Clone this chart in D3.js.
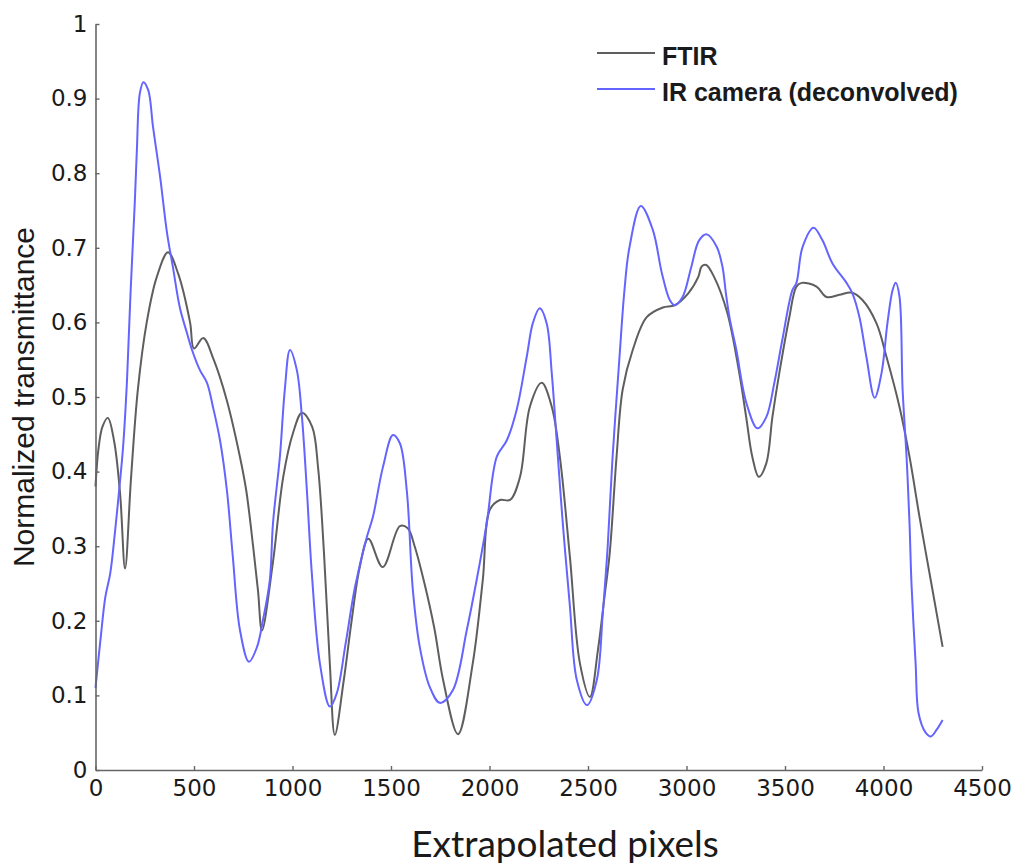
<!DOCTYPE html>
<html>
<head>
<meta charset="utf-8">
<script src="https://cdn.jsdelivr.net/npm/d3@7"></script>
<style>
  html, body { margin: 0; padding: 0; background: #fff; }
  svg { display: block; }
</style>
</head>
<body>
<svg id="chart" width="1014" height="864"></svg>
<script>
// ---- data ----
const ftirX = [0, 15, 35, 63, 95, 125, 150, 180, 215, 260, 310, 368, 420, 480, 500, 547, 600, 666, 733, 765, 800, 825, 845, 900, 953, 1003, 1048, 1100, 1130, 1160, 1190, 1215, 1260, 1300, 1340, 1385, 1458, 1545, 1585, 1620, 1670, 1720, 1765, 1840, 1915, 1966, 2002, 2053, 2104, 2155, 2205, 2265, 2316, 2357, 2408, 2459, 2510, 2550, 2585, 2610, 2645, 2676, 2727, 2798, 2880, 2940, 3009, 3060, 3077, 3100, 3140, 3207, 3268, 3303, 3334, 3367, 3405, 3436, 3471, 3522, 3558, 3585, 3660, 3711, 3776, 3838, 3893, 3964, 4015, 4081, 4132, 4183, 4249, 4300];
const ftirY = [0.38, 0.43, 0.46, 0.472, 0.44, 0.37, 0.27, 0.39, 0.51, 0.60, 0.66, 0.694, 0.665, 0.60, 0.565, 0.579, 0.55, 0.496, 0.42, 0.375, 0.30, 0.24, 0.187, 0.277, 0.393, 0.452, 0.479, 0.46, 0.405, 0.29, 0.14, 0.047, 0.12, 0.20, 0.27, 0.31, 0.272, 0.327, 0.324, 0.30, 0.25, 0.19, 0.12, 0.048, 0.143, 0.255, 0.349, 0.362, 0.362, 0.393, 0.487, 0.519, 0.487, 0.42, 0.286, 0.143, 0.098, 0.16, 0.235, 0.29, 0.42, 0.51, 0.563, 0.607, 0.62, 0.623, 0.639, 0.661, 0.675, 0.677, 0.661, 0.613, 0.532, 0.473, 0.42, 0.393, 0.411, 0.473, 0.532, 0.607, 0.648, 0.653, 0.648, 0.634, 0.637, 0.64, 0.63, 0.599, 0.554, 0.487, 0.42, 0.339, 0.241, 0.165];

const irX = [0, 25, 50, 75, 100, 120, 140, 160, 178, 200, 210, 225, 243, 268, 292, 328, 363, 393, 428, 464, 490, 530, 566, 596, 632, 667, 697, 733, 779, 820, 850, 885, 901, 936, 961, 987, 1022, 1048, 1073, 1098, 1139, 1190, 1225, 1270, 1317, 1377, 1408, 1459, 1510, 1545, 1580, 1611, 1646, 1697, 1748, 1814, 1885, 1935, 1986, 2037, 2088, 2138, 2189, 2220, 2255, 2290, 2316, 2341, 2372, 2408, 2443, 2495, 2545, 2575, 2600, 2625, 2660, 2685, 2710, 2768, 2829, 2875, 2915, 2940, 2980, 3024, 3064, 3103, 3154, 3183, 3200, 3218, 3253, 3304, 3360, 3405, 3446, 3486, 3537, 3558, 3589, 3645, 3690, 3741, 3812, 3842, 3878, 3913, 3955, 3990, 4020, 4046, 4062, 4081, 4097, 4117, 4132, 4142, 4163, 4178, 4214, 4240, 4270, 4300];
const irY = [0.11, 0.174, 0.232, 0.264, 0.322, 0.375, 0.433, 0.523, 0.64, 0.764, 0.831, 0.907, 0.922, 0.911, 0.862, 0.795, 0.72, 0.674, 0.62, 0.586, 0.563, 0.536, 0.519, 0.487, 0.442, 0.375, 0.286, 0.188, 0.145, 0.165, 0.201, 0.255, 0.331, 0.42, 0.51, 0.563, 0.536, 0.473, 0.375, 0.264, 0.143, 0.085, 0.103, 0.17, 0.245, 0.312, 0.339, 0.406, 0.449, 0.438, 0.375, 0.241, 0.165, 0.111, 0.09, 0.107, 0.188, 0.255, 0.331, 0.42, 0.442, 0.483, 0.554, 0.599, 0.619, 0.599, 0.532, 0.442, 0.331, 0.22, 0.121, 0.087, 0.121, 0.21, 0.30, 0.42, 0.554, 0.643, 0.70, 0.756, 0.724, 0.666, 0.63, 0.623, 0.634, 0.674, 0.71, 0.718, 0.701, 0.674, 0.639, 0.607, 0.563, 0.492, 0.458, 0.473, 0.519, 0.576, 0.643, 0.653, 0.701, 0.727, 0.71, 0.679, 0.653, 0.639, 0.607, 0.554, 0.499, 0.532, 0.599, 0.643, 0.653, 0.635, 0.51, 0.42, 0.331, 0.25, 0.143, 0.076, 0.05, 0.045, 0.054, 0.067];

const seriesNames = ["FTIR", "IR camera (deconvolved)"];
const seriesColors = ["#5e5e5e", "#6464ff"];

const xTicks = [0, 500, 1000, 1500, 2000, 2500, 3000, 3500, 4000, 4500];
const xTickLabels = ["0", "500", "1000", "1500", "2000", "2500", "3000", "3500", "4000", "4500"];
const yTicks = [0, 0.1, 0.2, 0.3, 0.4, 0.5, 0.6, 0.7, 0.8, 0.9, 1];
const yTickLabels = ["0", "0.1", "0.2", "0.3", "0.4", "0.5", "0.6", "0.7", "0.8", "0.9", "1"];

const xLabel = "Extrapolated pixels";
const yLabel = "Normalized transmittance";

// ---- layout ----
const svg = d3.select("#chart");
const plotLeft = 95.5, plotRight = 982, plotTop = 24, plotBottom = 770;

const x = d3.scaleLinear().domain([0, 4500]).range([plotLeft, plotRight]);
const y = d3.scaleLinear().domain([0, 1]).range([plotBottom, plotTop]);

const axisColor = "#666";

// lines
const line = d3.line()
  .x(d => x(d[0]))
  .y(d => y(d[1]))
  .curve(d3.curveCatmullRom.alpha(0.5));

const series = [
  d3.zip(ftirX, ftirY),
  d3.zip(irX, irY)
];

svg.append("g").selectAll("path")
  .data(series)
  .join("path")
  .attr("d", line)
  .attr("fill", "none")
  .attr("stroke", (d, i) => seriesColors[i])
  .attr("stroke-width", 2)
  .attr("stroke-linejoin", "round");

// axes
const xAxis = d3.axisBottom(x)
  .tickValues(xTicks)
  .tickFormat((d, i) => xTickLabels[i])
  .tickSizeInner(-4)
  .tickSizeOuter(0)
  .tickPadding(10);

const yAxis = d3.axisLeft(y)
  .tickValues(yTicks)
  .tickFormat((d, i) => yTickLabels[i])
  .tickSizeInner(-4)
  .tickSizeOuter(0)
  .tickPadding(8);

const gx = svg.append("g").attr("transform", `translate(0,${plotBottom})`).call(xAxis);
const gy = svg.append("g").attr("transform", `translate(${plotLeft},0)`).call(yAxis);

[gx, gy].forEach(g => {
  g.select(".domain").attr("stroke", axisColor).attr("stroke-width", 1.6);
  g.selectAll(".tick line").attr("stroke", axisColor).attr("stroke-width", 1.4);
  g.selectAll(".tick text")
    .attr("fill", "#1a1a1a")
    .style("font-family", "'DejaVu Sans', sans-serif")
    .style("font-size", "23px");
});

// axis titles
svg.append("text")
  .attr("x", 565)
  .attr("y", 857)
  .attr("text-anchor", "middle")
  .attr("fill", "#1a1a1a")
  .style("font-family", "Lato, 'Open Sans', sans-serif")
  .style("font-size", "37px")
  .text(xLabel);

svg.append("text")
  .attr("transform", `translate(34,${(plotTop + plotBottom) / 2}) rotate(-90)`)
  .attr("text-anchor", "middle")
  .attr("fill", "#1a1a1a")
  .style("font-family", "'Liberation Sans', Arial, sans-serif")
  .style("font-size", "30px")
  .text(yLabel);

// legend
const legendX1 = 597, legendX2 = 655, legendTextX = 662;
const legendRowsY = [53, 89];
const lg = svg.append("g");
seriesNames.forEach((name, i) => {
  lg.append("line")
    .attr("x1", legendX1).attr("x2", legendX2)
    .attr("y1", legendRowsY[i]).attr("y2", legendRowsY[i])
    .attr("stroke", seriesColors[i])
    .attr("stroke-width", 2);
  lg.append("text")
    .attr("x", legendTextX)
    .attr("y", legendRowsY[i] + 3)
    .attr("dy", "0.35em")
    .attr("fill", "#1a1a1a")
    .style("font-family", "'Liberation Sans', Arial, sans-serif")
    .style("font-weight", "bold")
    .style("font-size", "25px")
    .text(name);
});
</script>
</body>
</html>
